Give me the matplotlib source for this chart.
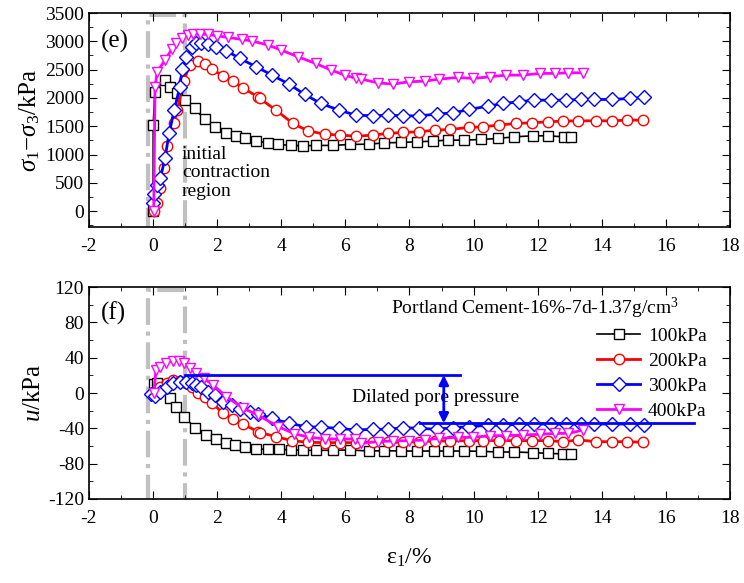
import matplotlib
matplotlib.use("Agg")
import matplotlib.pyplot as plt
from matplotlib.ticker import MultipleLocator
from matplotlib.patches import Rectangle

plt.rcParams['font.family'] = ['Liberation Serif', 'DejaVu Serif']
plt.rcParams['mathtext.fontset'] = 'custom'
plt.rcParams['mathtext.rm'] = 'Liberation Serif'
plt.rcParams['mathtext.it'] = 'Liberation Serif:italic'
plt.rcParams['axes.unicode_minus'] = False
plt.rcParams['font.size'] = 14

labels = ['100kPa', '200kPa', '300kPa', '400kPa']
colors = ['black', 'red', 'blue', 'magenta']
markers = ['s', 'o', 'D', 'v']

# (e) deviator stress vs axial strain
x_e_100 = [0.0, 0.003, 0.056, 0.37, 0.52, 0.75, 0.99, 1.30, 1.61, 1.93, 2.29, 2.60, 2.86, 3.22, 3.59,
           3.90, 4.31, 4.68, 5.09, 5.61, 6.13, 6.75, 7.22, 7.74, 8.23, 8.73, 9.19, 9.71, 10.23,
           10.75, 11.27, 11.84, 12.31, 12.83, 13.04]
y_e_100 = [0, 1520, 2108, 2315, 2196, 2080, 1961, 1815, 1620, 1479, 1384, 1325, 1284, 1237, 1207,
           1178, 1161, 1154, 1161, 1161, 1178, 1184, 1207, 1213, 1225, 1237, 1255, 1255, 1266,
           1284, 1313, 1331, 1331, 1313, 1313]

x_e_200 = [0.02, 0.11, 0.23, 0.35, 0.44, 0.65, 0.76, 0.95, 1.15, 1.40, 1.61, 1.85, 2.18, 2.50, 2.79,
           3.27, 3.33, 3.83, 4.36, 4.83, 5.35, 5.82, 6.34, 6.86, 7.32, 7.79, 8.29, 8.81, 9.27,
           9.85, 10.28, 10.78, 11.32, 11.82, 12.31, 12.80, 13.27, 13.83, 14.31, 14.80, 15.29]
y_e_200 = [0, 153, 418, 754, 1154, 1550, 1785, 2300, 2580, 2650, 2592, 2509, 2385, 2297, 2179,
           2020, 1991, 1785, 1550, 1419, 1361, 1343, 1325, 1343, 1373, 1390, 1402, 1431, 1443,
           1479, 1490, 1520, 1550, 1561, 1579, 1590, 1596, 1596, 1596, 1608, 1608]

x_e_300 = [0.0, 0.02, 0.13, 0.23, 0.37, 0.50, 0.66, 0.83, 0.91, 1.04, 1.20, 1.33, 1.51, 1.72, 1.96,
           2.29, 2.70, 3.22, 3.71, 4.24, 4.73, 5.23, 5.80, 6.32, 6.86, 7.32, 7.79, 8.29, 8.85,
           9.37, 9.87, 10.44, 10.93, 11.41, 11.89, 12.41, 12.88, 13.35, 13.76, 14.33, 14.88, 15.32]
y_e_300 = [136, 312, 459, 589, 931, 1373, 1785, 2186, 2509, 2727, 2903, 2963, 2963, 2951, 2903,
           2833, 2698, 2550, 2403, 2244, 2062, 1903, 1785, 1696, 1684, 1696, 1684, 1684, 1714,
           1737, 1797, 1855, 1903, 1931, 1961, 1961, 1961, 1973, 1973, 1973, 1991, 2009]

x_e_400 = [0.02, 0.06, 0.13, 0.37, 0.58, 0.73, 0.89, 1.09, 1.25, 1.46, 1.72, 1.98, 2.34, 2.76, 3.10,
           3.59, 4.00, 4.52, 5.07, 5.56, 5.98, 6.34, 6.50, 7.01, 7.48, 7.98, 8.47, 8.93, 9.50,
           9.97, 10.51, 11.01, 11.53, 12.07, 12.54, 12.96, 13.42]
y_e_400 = [5, 2196, 2461, 2668, 2857, 2974, 3062, 3110, 3122, 3128, 3122, 3098, 3069, 3034, 3004,
           2933, 2845, 2727, 2609, 2491, 2403, 2344, 2332, 2267, 2244, 2285, 2297, 2332, 2362,
           2344, 2373, 2403, 2403, 2433, 2433, 2444, 2444]

# (f) pore pressure vs axial strain
x_f_100 = [0.03, 0.13, 0.52, 0.73, 0.97, 1.32, 1.64, 1.95, 2.29, 2.57, 2.86, 3.22, 3.59, 3.92,
           4.31, 4.68, 5.09, 5.61, 6.13, 6.75, 7.22, 7.74, 8.23, 8.75, 9.21, 9.71, 10.23, 10.75,
           11.27, 11.84, 12.31, 12.80, 13.04]
y_f_100 = [9.8, 11, -5.3, -16.2, -26.8, -40, -47.5, -52.5, -57, -58.9, -60.8, -63.4, -63.8, -63.8,
           -64.5, -64.9, -64.9, -64.9, -64.5, -65.7, -65.3, -65.7, -65.7, -65.7, -65.7, -65.7,
           -66.0, -66.8, -66.8, -67.5, -68.3, -69.0, -69.4]

x_f_200 = [0.02, 0.21, 0.42, 0.63, 0.83, 1.02, 1.20, 1.39, 1.61, 1.84, 2.18, 2.50, 2.79, 3.27, 3.35,
           3.83, 4.34, 4.83, 5.35, 5.82, 6.34, 6.86, 7.32, 7.79, 8.29, 8.81, 9.27, 9.85, 10.28,
           10.78, 11.32, 11.82, 12.31, 12.80, 13.27, 13.83, 14.31, 14.80, 15.29]
y_f_200 = [-1, 7, 11.7, 14.7, 13.9, 11.7, 6.4, 0.4, -4.2, -11, -23, -29.8, -35, -43.8, -44.9,
           -49.4, -54, -55.8, -56.2, -56.2, -56.2, -55.1, -55.8, -55.8, -55.1, -54.3, -54.3,
           -53.9, -53.9, -53.9, -53.9, -53.9, -53.9, -55.1, -53.2, -55.1, -55.1, -55.1, -55.8]

x_f_300 = [-0.05, 0.06, 0.21, 0.42, 0.63, 0.83, 1.02, 1.20, 1.35, 1.51, 1.72, 1.93, 2.18, 2.45,
           2.70, 3.02, 3.27, 3.71, 4.24, 4.76, 5.25, 5.80, 6.32, 6.86, 7.32, 7.79, 8.29, 8.85,
           9.37, 9.87, 10.44, 10.93, 11.41, 11.89, 12.41, 12.88, 13.35, 13.76, 14.33, 14.88, 15.32]
y_f_300 = [-1.5, -3.4, 1.5, 6.4, 11, 12.8, 12.8, 11.7, 9.1, 6.4, 1.5, -2.3, -9.8, -13.6,
           -18.5, -21.1, -23.8, -28.7, -34.3, -38.1, -38.9, -40, -41.9, -41.1, -41.1, -39.2,
           -40, -41.1, -39.2, -38.1, -36.6, -36.2, -35.5, -35.1, -35.1, -35.1, -35.1, -35.1,
           -35.1, -35.1, -36.2]

x_f_400 = [0.02, 0.09, 0.21, 0.40, 0.63, 0.81, 0.96, 1.15, 1.35, 1.58, 1.87, 2.29, 2.81, 3.27,
           3.90, 4.40, 4.85, 5.35, 5.82, 6.30, 6.50, 7.01, 7.48, 7.98, 8.47, 8.93, 9.50, 9.97,
           10.51, 11.01, 11.53, 12.07, 12.54, 12.96, 13.42]
y_f_400 = [0, 26, 29.8, 33.6, 36.6, 36.6, 33.6, 28, 22.3, 16.6, 9.1, -4.2, -17.3, -25,
           -38, -46, -50, -52, -52, -52, -57, -55.1, -54.3, -53.9, -53.2, -51.3, -50.2, -50.2,
           -48.3, -48.3, -47.5, -46.8, -45.7, -45.7, -41.9]

series_e = [(x_e_100, y_e_100), (x_e_200, y_e_200), (x_e_300, y_e_300), (x_e_400, y_e_400)]
series_f = [(x_f_100, y_f_100), (x_f_200, y_f_200), (x_f_300, y_f_300), (x_f_400, y_f_400)]


def style_axes(ax, ymaj, ymin):
    ax.set_xlim(-2, 18)
    ax.xaxis.set_major_locator(MultipleLocator(2))
    ax.xaxis.set_minor_locator(MultipleLocator(1))
    ax.yaxis.set_major_locator(MultipleLocator(ymaj))
    ax.yaxis.set_minor_locator(MultipleLocator(ymin))
    ax.tick_params(which='both', direction='in', top=True, right=True, labelsize=14)
    ax.tick_params(which='major', length=6)
    ax.tick_params(which='minor', length=3)
    ax.tick_params(axis='x', pad=8)
    for s in ax.spines.values():
        s.set_linewidth(1.2)


fig = plt.figure(figsize=(7.44, 5.83), dpi=100)
ax1 = fig.add_axes([0.1196, 0.6106, 0.8616, 0.3671])
ax2 = fig.add_axes([0.1196, 0.1441, 0.8616, 0.3636])

for (x, y), c, m, lab in zip(series_e, colors, markers, labels):
    lw = 1.2 if c == 'black' else 2
    ax1.plot(x, y, color=c, lw=lw, marker=m, ms=7.5, mfc='white', mec=c, mew=1, label=lab)
for (x, y), c, m, lab in zip(series_f, colors, markers, labels):
    lw = 1.2 if c == 'black' else 2
    ax2.plot(x, y, color=c, lw=lw, marker=m, ms=7.5, mfc='white', mec=c, mew=1, label=lab)

style_axes(ax1, 500, 250)
ax1.set_ylim(-280, 3500)
ax1.set_ylabel(r'$\sigma_{1}$$-$$\sigma_{3}$/kPa', fontsize=18, labelpad=2)

style_axes(ax2, 40, 20)
ax2.set_ylim(-120, 120)
ax2.set_ylabel(r'$u$/kPa', fontsize=18, labelpad=2)
ax2.set_xlabel(r'$\mathregular{\epsilon_1}$/%', fontsize=17, labelpad=14)

# initial contraction region boxes
ax1.add_patch(Rectangle((-0.15, -400), 1.15, 3865, fill=False, ec='#c0c0c0', lw=3,
                        ls='-.', zorder=1))
ax2.add_patch(Rectangle((-0.15, -140), 1.15, 257, fill=False, ec='#c0c0c0', lw=3,
                        ls='-.', zorder=1))

ax1.text(-1.19, 3004, '(e)', fontsize=18, ha='center', va='center')
ax1.text(0.9, 1150, 'initial\ncontraction\nregion', fontsize=14, ha='left', va='top',
         linespacing=1.1)

ax2.text(-1.23, 90, '(f)', fontsize=18, ha='center', va='center')
ax2.text(11.9, 96, r'Portland Cement-16%-7d-1.37g/cm$^3$', fontsize=14, ha='center',
         va='center')
ax2.text(6.22, -5, 'Dilated pore pressure', fontsize=14, ha='left', va='center')

# dilated pore pressure indicator
ax2.plot([0.99, 9.59], [20.4, 20.4], color='blue', lw=2)
ax2.plot([8.34, 16.88], [-34.3, -34.3], color='blue', lw=2)
ax2.annotate('', xy=(9.07, 20.4), xytext=(9.07, -34.3),
             arrowprops=dict(arrowstyle='<|-|>', color='blue', lw=2, mutation_scale=14,
                             shrinkA=0, shrinkB=0))

ax2.legend(loc='upper right', bbox_to_anchor=(0.985, 0.875), frameon=False, fontsize=14,
           handlelength=2.2, labelspacing=0.38, handletextpad=0.4, borderpad=0.2)

fig.savefig('out.png', dpi=100)
